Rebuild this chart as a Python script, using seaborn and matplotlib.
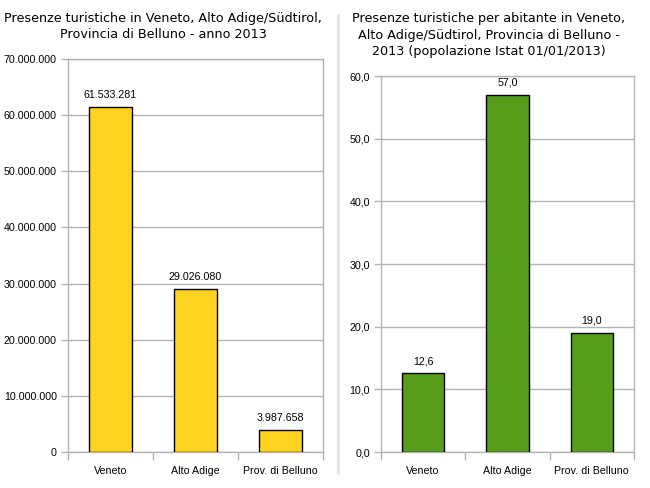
import matplotlib
matplotlib.use('Agg')
import matplotlib.pyplot as plt
import matplotlib.lines as mlines
import seaborn as sns
import pandas as pd

# ── Data ──────────────────────────────────────────────────────────────────────
categories = ['Veneto', 'Alto Adige', 'Prov. di Belluno']
presenze = [61533281, 29026080, 3987658]
presenze_per_ab = [12.6, 57.0, 19.0]

title_left = 'Presenze turistiche in Veneto, Alto Adige/Südtirol,\nProvincia di Belluno - anno 2013'
title_right = ('Presenze turistiche per abitante in Veneto,\nAlto Adige/Südtirol, Provincia di Belluno -\n'
               '2013 (popolazione Istat 01/01/2013)')

YELLOW = '#FFD320'
GREEN = '#579D1C'
GRID = '#b3b3b3'

sns.set_theme(style='white')
plt.rcParams['font.family'] = ['Liberation Sans', 'DejaVu Sans']

fig = plt.figure(figsize=(6.5, 4.88), dpi=100)
ax1 = fig.add_axes([68/650, 36/488, 255/650, 393/488])
ax2 = fig.add_axes([381/650, 36/488, 253/650, 376/488])

df1 = pd.DataFrame({'cat': categories, 'val': presenze})
df2 = pd.DataFrame({'cat': categories, 'val': presenze_per_ab})


def fmt_it_int(v):
    return f'{v:,.0f}'.replace(',', '.')


def fmt_it_dec(v):
    return f'{v:.1f}'.replace('.', ',')


def style_axis(ax, ymax, step, fmt, bar_color, data):
    sns.barplot(data=data, x='cat', y='val', color=bar_color, width=0.5,
                edgecolor='black', linewidth=1.0, saturation=1, ax=ax, zorder=3)
    ax.set_xlim(-0.5, len(categories) - 0.5)
    ax.set_ylim(0, ymax)
    ticks = [i * step for i in range(int(round(ymax / step)) + 1)]
    ax.set_yticks(ticks)
    ax.set_yticklabels([fmt(t) for t in ticks], fontsize=7.7, color='black')
    ax.set_xticks(range(len(categories)))
    ax.set_xticklabels(categories, fontsize=7.7, color='black')
    ax.set_xticks([i - 0.5 for i in range(len(categories) + 1)], minor=True)
    ax.tick_params(axis='x', which='both', bottom=True)
    ax.tick_params(axis='y', which='both', left=True)
    ax.tick_params(axis='x', which='major', length=0, pad=10)
    ax.tick_params(axis='x', which='minor', length=6, color=GRID, width=1, direction='out')
    ax.tick_params(axis='y', which='major', length=5, color=GRID, width=1, direction='out', pad=3)
    ax.yaxis.grid(True, color=GRID, linewidth=1, zorder=0)
    ax.set_axisbelow(True)
    for s in ax.spines.values():
        s.set_color(GRID)
        s.set_linewidth(1)
    ax.set_xlabel('')
    ax.set_ylabel('')
    ax.bar_label(ax.containers[0], labels=[fmt(v) for v in data['val']],
                 padding=5, fontsize=7.7, color='black')


style_axis(ax1, 70000000, 10000000, fmt_it_int, YELLOW, df1)
style_axis(ax2, 60.0, 10.0, fmt_it_dec, GREEN, df2)

fig.text(163/650, 1 - 12/488, title_left, ha='center', va='top', fontsize=9.2,
         family='DejaVu Sans', linespacing=1.35, color='black')
fig.text(489/650, 1 - 12/488, title_right, ha='center', va='top', fontsize=9.2,
         family='DejaVu Sans', linespacing=1.35, color='black')

# separator between the two charts
fig.add_artist(mlines.Line2D([338/650, 338/650], [15/488, 1 - 15/488],
                             color='#e3e3e3', linewidth=2, transform=fig.transFigure))

fig.savefig('out.png', dpi=100, facecolor='white')
